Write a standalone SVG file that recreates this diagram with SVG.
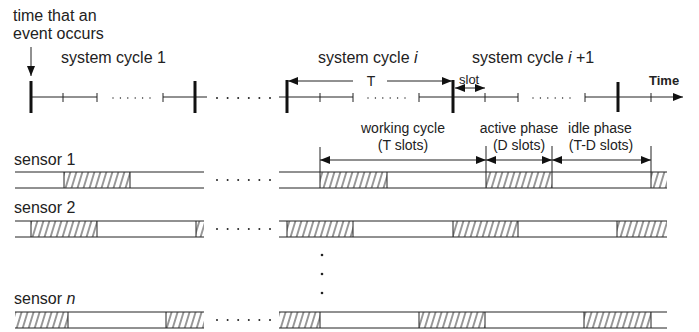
<svg xmlns="http://www.w3.org/2000/svg" width="699" height="332" viewBox="0 0 699 332">
<style>
text{font-family:"Liberation Sans",Arial,sans-serif;fill:#222}
.big{font-size:16px}
.lab{font-size:14px}
.sm{font-size:13px}
.ln{stroke:#222;stroke-width:1;fill:none}
.bar{stroke:#111;stroke-width:3;fill:none}
.hat{fill:url(#hatch);stroke:none}
.dot{fill:#222}
</style>
<defs>
<pattern id="hatch" patternUnits="userSpaceOnUse" width="6" height="10" patternTransform="skewX(-17)">
<line x1="3" y1="0" x2="3" y2="10" stroke="#222" stroke-width="0.9"/>
</pattern>
<marker id="ah" markerUnits="userSpaceOnUse" markerWidth="10" markerHeight="8" refX="10" refY="4" orient="auto-start-reverse">
<path d="M0,0 L10,4 L0,8 Z" fill="#111"/>
</marker>
</defs>

<g id="labels-top">
<text class="big" x="13" y="21">time that an</text>
<text class="big" x="13" y="39">event occurs</text>
<text class="big" x="61" y="63">system cycle 1</text>
<text class="big" x="318" y="63">system cycle <tspan font-style="italic">i</tspan></text>
<text class="big" x="472" y="63">system cycle <tspan font-style="italic">i</tspan> +1</text>
</g>

<g id="timeline">
<line class="ln" x1="31" y1="97" x2="97" y2="97"/>
<line class="ln" x1="163" y1="97" x2="207" y2="97"/>
<line class="ln" x1="279" y1="97" x2="353" y2="97"/>
<line class="ln" x1="419" y1="97" x2="518" y2="97"/>
<line class="ln" x1="585" y1="97" x2="683" y2="97" marker-end="url(#ah)"/>
<g class="ln">
<line x1="63" y1="93" x2="63" y2="102"/>
<line x1="97" y1="93" x2="97" y2="102"/>
<line x1="163" y1="93" x2="163" y2="102"/>
<line x1="320" y1="93" x2="320" y2="102"/>
<line x1="353" y1="93" x2="353" y2="102"/>
<line x1="419" y1="93" x2="419" y2="102"/>
<line x1="485" y1="93" x2="485" y2="102"/>
<line x1="518" y1="93" x2="518" y2="102"/>
<line x1="585" y1="93" x2="585" y2="102"/>
<line x1="651" y1="93" x2="651" y2="102"/>
</g>
<g class="bar">
<line x1="31" y1="81" x2="31" y2="113"/>
<line x1="195" y1="81" x2="195" y2="113"/>
<line x1="287" y1="80" x2="287" y2="113"/>
<line x1="453" y1="80" x2="453" y2="113"/>
<line x1="618" y1="82" x2="618" y2="112"/>
</g>
<g class="dot">
<circle cx="113" cy="98" r="0.7"/><circle cx="120.4" cy="98" r="0.7"/><circle cx="127.8" cy="98" r="0.7"/><circle cx="135.2" cy="98" r="0.7"/><circle cx="142.6" cy="98" r="0.7"/><circle cx="150" cy="98" r="0.7"/>
<circle cx="368" cy="98" r="0.7"/><circle cx="375.4" cy="98" r="0.7"/><circle cx="382.8" cy="98" r="0.7"/><circle cx="390.2" cy="98" r="0.7"/><circle cx="397.6" cy="98" r="0.7"/><circle cx="405" cy="98" r="0.7"/>
<circle cx="533" cy="98" r="0.7"/><circle cx="540.4" cy="98" r="0.7"/><circle cx="547.8" cy="98" r="0.7"/><circle cx="555.2" cy="98" r="0.7"/><circle cx="562.6" cy="98" r="0.7"/><circle cx="570" cy="98" r="0.7"/>
<circle cx="217" cy="98" r="1"/><circle cx="227.6" cy="98" r="1"/><circle cx="238.2" cy="98" r="1"/><circle cx="248.8" cy="98" r="1"/><circle cx="259.4" cy="98" r="1"/><circle cx="270" cy="98" r="1"/>
</g>
<text class="sm" x="649" y="85" font-weight="bold">Time</text>
</g>

<g id="connectors">
<line class="ln" x1="31" y1="47" x2="31" y2="76" marker-end="url(#ah)"/>
<line class="ln" x1="288" y1="81" x2="353" y2="81" marker-start="url(#ah)"/>
<line class="ln" x1="387" y1="81" x2="452" y2="81" marker-end="url(#ah)"/>
<line class="ln" x1="455" y1="88" x2="485" y2="88" marker-start="url(#ah)" marker-end="url(#ah)"/>
<line class="ln" x1="320" y1="160" x2="486" y2="160" marker-start="url(#ah)" marker-end="url(#ah)"/>
<line class="ln" x1="486" y1="160" x2="552" y2="160" marker-start="url(#ah)" marker-end="url(#ah)"/>
<line class="ln" x1="552" y1="160" x2="651" y2="160" marker-start="url(#ah)" marker-end="url(#ah)"/>
<line class="ln" x1="320" y1="147" x2="320" y2="172"/>
<line class="ln" x1="486" y1="146" x2="486" y2="172"/>
<line class="ln" x1="552" y1="146" x2="552" y2="172"/>
<line class="ln" x1="651" y1="146" x2="651" y2="172"/>
</g>

<g id="cycle-labels">
<text class="lab" x="371" y="86" text-anchor="middle">T</text>
<text class="sm" x="459" y="84">slot</text>
<text class="lab" x="403" y="133" text-anchor="middle">working cycle</text>
<text class="lab" x="403" y="150" text-anchor="middle">(T slots)</text>
<text class="lab" x="519" y="133" text-anchor="middle">active phase</text>
<text class="lab" x="519" y="150" text-anchor="middle">(D slots)</text>
<text class="lab" x="600" y="133" text-anchor="middle">idle phase</text>
<text class="lab" x="601" y="150" text-anchor="middle">(T-D slots)</text>
</g>

<g id="sensor1">
<text class="big" x="14" y="165">sensor 1</text>
<rect class="hat" x="64" y="172" width="66" height="16"/>
<rect class="hat" x="320" y="172" width="67" height="16"/>
<rect class="hat" x="486" y="172" width="66" height="16"/>
<rect class="hat" x="651" y="172" width="16" height="16"/>
<g class="ln">
<line x1="15" y1="172" x2="204" y2="172"/><line x1="15" y1="188" x2="204" y2="188"/>
<line x1="279" y1="172" x2="667" y2="172"/><line x1="279" y1="188" x2="667" y2="188"/>
<line x1="64" y1="172" x2="64" y2="188"/><line x1="130" y1="172" x2="130" y2="188"/>
<line x1="387" y1="172" x2="387" y2="188"/>
<line x1="552" y1="172" x2="552" y2="188"/>
<line x1="486" y1="172" x2="486" y2="188"/>
<line x1="651" y1="172" x2="651" y2="188"/>
<line x1="320" y1="172" x2="320" y2="188"/>
</g>
<g class="dot"><circle cx="217" cy="180" r="1"/><circle cx="227.6" cy="180" r="1"/><circle cx="238.2" cy="180" r="1"/><circle cx="248.8" cy="180" r="1"/><circle cx="259.4" cy="180" r="1"/><circle cx="270" cy="180" r="1"/></g>
</g>

<g id="sensor2">
<text class="big" x="14" y="213">sensor 2</text>
<rect class="hat" x="31" y="221" width="66" height="16"/>
<rect class="hat" x="196" y="221" width="8" height="16"/>
<rect class="hat" x="287" y="221" width="66" height="16"/>
<rect class="hat" x="453" y="221" width="65" height="16"/>
<rect class="hat" x="617" y="221" width="50" height="16"/>
<g class="ln">
<line x1="15" y1="221" x2="204" y2="221"/><line x1="15" y1="237" x2="204" y2="237"/>
<line x1="279" y1="221" x2="667" y2="221"/><line x1="279" y1="237" x2="667" y2="237"/>
<line x1="31" y1="221" x2="31" y2="237"/><line x1="97" y1="221" x2="97" y2="237"/>
<line x1="196" y1="221" x2="196" y2="237"/>
<line x1="287" y1="221" x2="287" y2="237"/><line x1="353" y1="221" x2="353" y2="237"/>
<line x1="453" y1="221" x2="453" y2="237"/><line x1="518" y1="221" x2="518" y2="237"/>
<line x1="617" y1="221" x2="617" y2="237"/>
</g>
<g class="dot"><circle cx="217" cy="229" r="1"/><circle cx="227.6" cy="229" r="1"/><circle cx="238.2" cy="229" r="1"/><circle cx="248.8" cy="229" r="1"/><circle cx="259.4" cy="229" r="1"/><circle cx="270" cy="229" r="1"/></g>
</g>

<g id="ellipsis">
<circle class="dot" cx="322" cy="255" r="1.3"/>
<circle class="dot" cx="322" cy="274" r="1.3"/>
<circle class="dot" cx="322" cy="293" r="1.3"/>
</g>

<g id="sensorn">
<text class="big" x="14" y="304">sensor <tspan font-style="italic">n</tspan></text>
<rect class="hat" x="15" y="312" width="53" height="16"/>
<rect class="hat" x="166" y="312" width="38" height="16"/>
<rect class="hat" x="279" y="312" width="41" height="16"/>
<rect class="hat" x="419" y="312" width="66" height="16"/>
<rect class="hat" x="584" y="312" width="67" height="16"/>
<g class="ln">
<line x1="15" y1="312" x2="204" y2="312"/><line x1="15" y1="328" x2="204" y2="328"/>
<line x1="279" y1="312" x2="667" y2="312"/><line x1="279" y1="328" x2="667" y2="328"/>
<line x1="68" y1="312" x2="68" y2="328"/>
<line x1="166" y1="312" x2="166" y2="328"/>
<line x1="320" y1="312" x2="320" y2="328"/>
<line x1="419" y1="312" x2="419" y2="328"/><line x1="485" y1="312" x2="485" y2="328"/>
<line x1="584" y1="312" x2="584" y2="328"/><line x1="651" y1="312" x2="651" y2="328"/>
</g>
<g class="dot"><circle cx="217" cy="320" r="1"/><circle cx="227.6" cy="320" r="1"/><circle cx="238.2" cy="320" r="1"/><circle cx="248.8" cy="320" r="1"/><circle cx="259.4" cy="320" r="1"/><circle cx="270" cy="320" r="1"/></g>
</g>
</svg>
